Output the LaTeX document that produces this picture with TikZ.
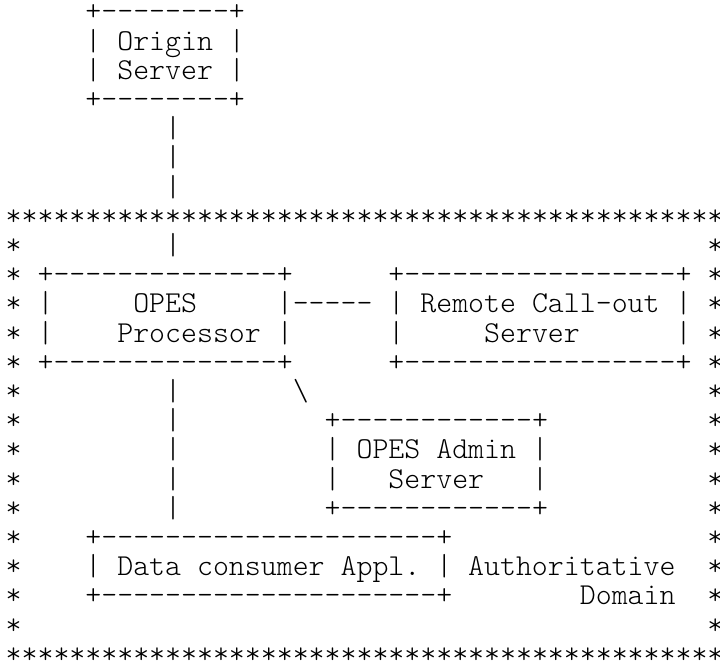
\documentclass[tikz,border=0pt]{standalone}
\usepackage{fontspec}
\newfontfamily\asciifont{lmmonolt10-regular.otf}
\usepackage{tikz}
\tikzset{
  ascii/.style={
    font=\asciifont\fontsize{15.19pt}{14.6pt}\selectfont,
    inner sep=0pt,
    anchor=base west
  }
}
% one grid cell = one character, one row = one text line
\def\stars{*********************************************}

\begin{document}
\begin{tikzpicture}[x=7.975pt, y=-14.6pt]
    \useasboundingbox (-0.332, 0.281) rectangle (44.81, 23.089);
    % origin server and its link down
    \node[ascii] (orgtop) at (5, 1) {+--------+};
    \node[ascii] (orgl1) at (5, 2) {|~Origin~|};
    \node[ascii] (orgl2) at (5, 3) {|~Server~|};
    \node[ascii] (orgbot) at (5, 4) {+--------+};
    \node[ascii] (up5) at (10, 5) {|};
    \node[ascii] (up6) at (10, 6) {|};
    \node[ascii] (up7) at (10, 7) {|};
    % authoritative domain frame
    \node[ascii] (domtop) at (0, 8) {\stars};
    \node[ascii] (dombot) at (0, 23) {\stars};
    \foreach \r in {9,...,22} {
      \node[ascii] (dl\r) at (0, \r) {*};
      \node[ascii] (dr\r) at (44, \r) {*};
    }
    \node[ascii] (up9) at (10, 9) {|};
    % opes processor
    \node[ascii] (proctop) at (2, 10) {+--------------+};
    \node[ascii] (procl1a) at (2, 11) {|};
    \node[ascii] (procl1b) at (8, 11) {OPES};
    \node[ascii] (procl1c) at (17, 11) {|-----};
    \node[ascii] (procl2a) at (2, 12) {|};
    \node[ascii] (procl2b) at (7, 12) {Processor~|};
    \node[ascii] (procbot) at (2, 13) {+--------------+};
    % remote call-out server
    \node[ascii] (remtop) at (24, 10) {+-----------------+};
    \node[ascii] (reml1) at (24, 11) {|~Remote~Call-out~|};
    \node[ascii] (reml2a) at (24, 12) {|};
    \node[ascii] (reml2b) at (30, 12) {Server};
    \node[ascii] (reml2c) at (42, 12) {|};
    \node[ascii] (rembot) at (24, 13) {+-----------------+};
    % links below the processor
    \node[ascii] (slash) at (18, 14) {\textbackslash};
    \foreach \r in {14,...,18}
      \node[ascii] (dn\r) at (10, \r) {|};
    % opes admin server
    \node[ascii] (admtop) at (20, 15) {+------------+};
    \node[ascii] (adml1) at (20, 16) {|~OPES~Admin~|};
    \node[ascii] (adml2a) at (20, 17) {|};
    \node[ascii] (adml2b) at (24, 17) {Server};
    \node[ascii] (adml2c) at (33, 17) {|};
    \node[ascii] (admbot) at (20, 18) {+------------+};
    % data consumer application
    \node[ascii] (apptop) at (5, 19) {+---------------------+};
    \node[ascii] (appl1) at (5, 20) {|~Data~consumer~Appl.~|~Authoritative};
    \node[ascii] (appbot) at (5, 21) {+---------------------+};
    \node[ascii] (domain) at (36, 21) {Domain};
\end{tikzpicture}
\end{document}
